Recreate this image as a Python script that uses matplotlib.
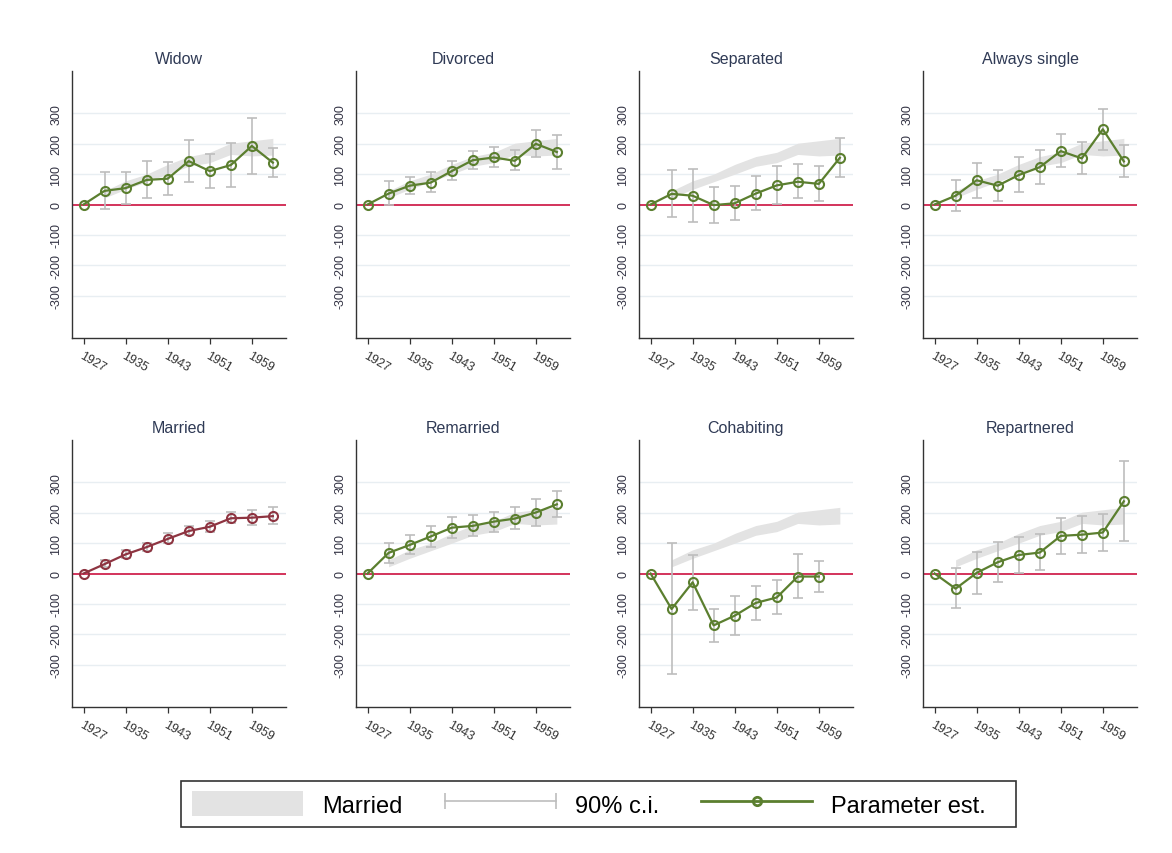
import numpy as np
import matplotlib
matplotlib.use("Agg")
from matplotlib import pyplot as plt
from matplotlib.patches import Patch
from matplotlib.lines import Line2D
from matplotlib.legend_handler import HandlerLine2D

plt.rcParams['font.family'] = ['Liberation Sans', 'DejaVu Sans']

nan = np.nan
years = [1927, 1931, 1935, 1939, 1943, 1947, 1951, 1955, 1959, 1963]
tick_years = [1927, 1935, 1943, 1951, 1959]

# point estimates and 90% c.i. (1927 is the reference cohort)
widow_est = [0, 45, 54, 81, 85, 143, 110, 130, 193, 138]
widow_lo = [nan, -14, 3, 22, 31, 74, 56, 59, 102, 90]
widow_hi = [nan, 106, 106, 143, 141, 214, 168, 204, 284, 187]

divorced_est = [0, 36, 62, 72, 110, 146, 155, 144, 200, 173]
divorced_lo = [nan, -2, 35, 40, 80, 117, 124, 113, 158, 118]
divorced_hi = [nan, 77, 91, 106, 143, 177, 188, 178, 244, 230]

separated_est = [0, 35, 29, -2, 4, 36, 63, 75, 68, 154]
separated_lo = [nan, -42, -58, -60, -52, -18, 2, 21, 12, 90]
separated_hi = [nan, 113, 117, 58, 62, 93, 126, 133, 128, 220]

single_est = [0, 29, 80, 62, 97, 123, 176, 152, 248, 142]
single_lo = [nan, -23, 23, 12, 40, 68, 122, 100, 180, 90]
single_hi = [nan, 82, 138, 114, 155, 180, 232, 206, 316, 196]

married_est = [0, 31, 63, 87, 114, 140, 154, 182, 184, 189]
married_lo = [nan, 22, 50, 75, 100, 126, 138, 165, 160, 163]
married_hi = [nan, 45, 78, 100, 132, 158, 172, 202, 210, 218]

remarried_est = [0, 68, 94, 122, 151, 157, 171, 181, 201, 228]
remarried_lo = [nan, 35, 63, 88, 118, 124, 138, 147, 158, 187]
remarried_hi = [nan, 102, 128, 157, 186, 192, 204, 218, 246, 271]

cohab_est = [0, -117, -29, -171, -139, -97, -79, -10, -10, nan]
cohab_lo = [nan, -331, -119, -226, -204, -152, -135, -80, -60, nan]
cohab_hi = [nan, 101, 62, -116, -73, -40, -20, 63, 41, nan]

repart_est = [0, -50, 2, 37, 61, 69, 124, 128, 135, 238]
repart_lo = [nan, -115, -67, -27, 3, 12, 64, 67, 75, 108]
repart_hi = [nan, 17, 72, 105, 120, 130, 184, 189, 196, 371]

titles = ["Widow", "Divorced", "Separated", "Always single",
          "Married", "Remarried", "Cohabiting", "Repartnered"]
panels = [
    (widow_est, widow_lo, widow_hi),
    (divorced_est, divorced_lo, divorced_hi),
    (separated_est, separated_lo, separated_hi),
    (single_est, single_lo, single_hi),
    (married_est, married_lo, married_hi),
    (remarried_est, remarried_lo, remarried_hi),
    (cohab_est, cohab_lo, cohab_hi),
    (repart_est, repart_lo, repart_hi),
]

green = '#5b7f2f'
maroon = '#8e3441'
band_col = '#e3e3e3'
ci_col = '#bdbdbd'
zero_col = '#cc1040'
text_col = '#2f3a55'

W, H = 1172, 854
fig = plt.figure(figsize=(W / 100, H / 100), dpi=100)

lefts = [72, 356, 639, 923]
tops = [72, 441]
aw, ah = 214, 267

yrs = np.array(years, dtype=float)
for i, (title, (est, lo, hi)) in enumerate(zip(titles, panels)):
    r, c = divmod(i, 4)
    ax = fig.add_axes([lefts[c] / W, 1 - (tops[r] + ah) / H, aw / W, ah / H])
    est = np.array(est, dtype=float)
    lo = np.array(lo, dtype=float)
    hi = np.array(hi, dtype=float)

    for yv in [-300, -200, -100, 100, 200, 300]:
        ax.axhline(yv, color='#e8eef2', lw=1.0, zorder=0)
    ax.axhline(0, color=zero_col, lw=1.2, zorder=1)

    is_married = title == "Married"
    if not is_married:
        ax.fill_between(yrs[1:], np.array(married_lo[1:]), np.array(married_hi[1:]),
                        color=band_col, lw=0, zorder=1)
    ok = ~np.isnan(lo)
    ax.errorbar(yrs[ok], est[ok], yerr=[est[ok] - lo[ok], hi[ok] - est[ok]],
                fmt='none', ecolor=ci_col, elinewidth=1.2, capsize=3.5,
                capthick=1.2, zorder=2)
    col = maroon if is_married else green
    ax.plot(yrs, est, color=col, lw=1.6, marker='o', ms=6.5, mfc='none',
            mec=col, mew=1.5, zorder=3)

    ax.set_xlim(1924.8, 1965.5)
    ax.set_ylim(-440, 440)
    ax.set_yticks([-300, -200, -100, 0, 100, 200, 300])
    ax.set_xticks(tick_years)
    ax.set_xticklabels([str(t) for t in tick_years], rotation=-30, ha='left',
                       rotation_mode='anchor', fontsize=9, color='#333333')
    ax.set_yticklabels([str(t) for t in [-300, -200, -100, 0, 100, 200, 300]],
                       rotation=90, va='center', fontsize=9, color='#333344')
    ax.tick_params(axis='y', length=0, pad=7)
    ax.tick_params(axis='x', length=4, width=0.9, color='#333333', pad=4)
    for s in ['top', 'right']:
        ax.spines[s].set_visible(False)
    for s in ['left', 'bottom']:
        ax.spines[s].set_color('#333333')
        ax.spines[s].set_linewidth(1.0)
    ax.set_title(title, fontsize=11.5, color=text_col, pad=6)

h_band = Patch(facecolor=band_col, edgecolor='none')
h_ci = Line2D([], [], color=ci_col, lw=1.2, marker='|', ms=12, mew=1.2)
h_est = Line2D([], [], color=green, lw=2.0, marker='o', ms=6, mfc='none',
               mec=green, mew=2.0)
leg = fig.legend([h_band, h_ci, h_est], ["Married", "90% c.i.", "Parameter est.   "],
                 loc='center', bbox_to_anchor=(0.511, 0.0574), ncol=3,
                 fontsize=17, frameon=True, fancybox=False, edgecolor='black',
                 handlelength=4.7, handleheight=1.2, handletextpad=0.8,
                 columnspacing=1.8, borderpad=0.45, borderaxespad=0,
                 handler_map={h_ci: HandlerLine2D(numpoints=2, marker_pad=0.0),
                              h_est: HandlerLine2D(numpoints=1)})
leg.get_frame().set_linewidth(1.2)

fig.savefig("out.png", dpi=100, facecolor='white')
